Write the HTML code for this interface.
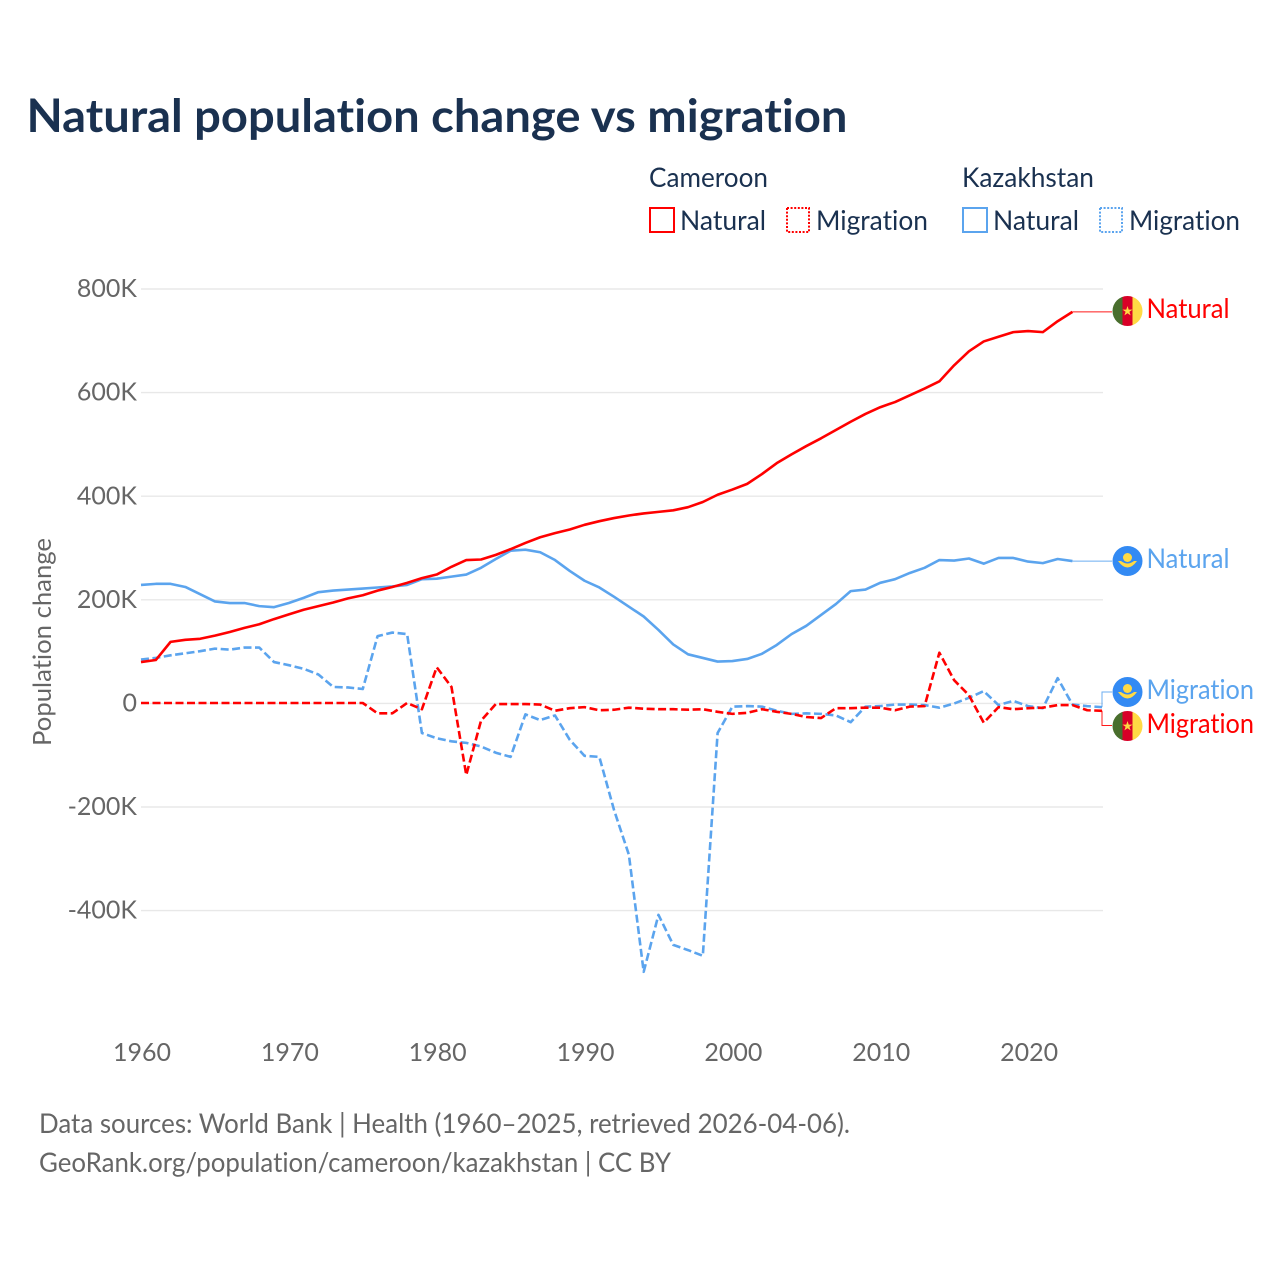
<!DOCTYPE html>
<html lang="en">
<head>
<meta charset="utf-8">
<title>Natural population change vs migration</title>
<style>
html,body{margin:0;padding:0;background:#fff;}
svg{display:block;}
text{font-family:"Lato","Carlito","Liberation Sans",sans-serif;font-variant-ligatures:none;}
</style>
</head>
<body>
<svg id="chart" xmlns="http://www.w3.org/2000/svg" width="1280" height="1280" viewBox="0 0 1280 1280">
  <rect x="0" y="0" width="1280" height="1280" fill="#ffffff"/>
  <defs>
    <clipPath id="flag-clip-1"><circle cx="1127.5" cy="311" r="15"/></clipPath>
    <clipPath id="flag-clip-2"><circle cx="1127.5" cy="726" r="15"/></clipPath>
  </defs>

  <text x="26.5" y="132" font-size="46" font-weight="700" fill="#1a3150" textLength="821" lengthAdjust="spacingAndGlyphs">Natural population change vs migration</text>

  <g font-size="27" fill="#1a3150">
    <text x="649" y="187" textLength="119" lengthAdjust="spacingAndGlyphs">Cameroon</text>
    <text x="962" y="187" textLength="132" lengthAdjust="spacingAndGlyphs">Kazakhstan</text>
    <rect x="650" y="208" width="24" height="24" fill="none" stroke="#ff0000" stroke-width="2"/>
    <text x="680" y="230" textLength="86" lengthAdjust="spacingAndGlyphs">Natural</text>
    <rect x="787" y="208" width="22" height="24" fill="none" stroke="#ff0000" stroke-width="2" stroke-dasharray="2 1.6"/>
    <text x="816" y="230" textLength="112" lengthAdjust="spacingAndGlyphs">Migration</text>
    <rect x="963" y="208" width="24" height="24" fill="none" stroke="#5ba4ee" stroke-width="2"/>
    <text x="993" y="230" textLength="86" lengthAdjust="spacingAndGlyphs">Natural</text>
    <rect x="1100" y="208" width="22" height="24" fill="none" stroke="#5ba4ee" stroke-width="2" stroke-dasharray="2 1.6"/>
    <text x="1129" y="230" textLength="111" lengthAdjust="spacingAndGlyphs">Migration</text>
  </g>

  <g id="grid"></g>
  <g id="y-axis"></g>
  <g id="x-axis"></g>

  <text transform="translate(51,746) rotate(-90)" font-size="25" fill="#666666" textLength="208" lengthAdjust="spacingAndGlyphs">Population change</text>

  <g id="leaders"></g>
  <g id="series"></g>

  <g>
    <g clip-path="url(#flag-clip-1)">
      <rect x="1112" y="296" width="10.5" height="30" fill="#496e2d"/>
      <rect x="1122.5" y="296" width="10" height="30" fill="#d80027"/>
      <rect x="1132.5" y="296" width="10" height="30" fill="#ffda44"/>
      <polygon points="1127.5,306 1128.7,309.6 1132.5,309.6 1129.4,311.8 1130.6,315.4 1127.5,313.2 1124.4,315.4 1125.6,311.8 1122.5,309.6 1126.3,309.6" fill="#ffda44"/>
    </g>
    <text x="1146.5" y="318" font-size="27" fill="#ff0000" textLength="83" lengthAdjust="spacingAndGlyphs">Natural</text>
  </g>

  <g>
    <g>
      <circle cx="1127.5" cy="561" r="15" fill="#338af3"/>
      <circle cx="1127.5" cy="557.5" r="4.5" fill="#ffda44"/>
      <path d="M1118 561 L1121 561 Q1127.5 566 1134 561 L1137 561 Q1127.5 574 1118 561 Z" fill="#ffda44"/>
    </g>
    <text x="1146.5" y="568" font-size="27" fill="#5ba4ee" textLength="83" lengthAdjust="spacingAndGlyphs">Natural</text>
  </g>

  <g>
    <g>
      <circle cx="1127.5" cy="692" r="15" fill="#338af3"/>
      <circle cx="1127.5" cy="688.5" r="4.5" fill="#ffda44"/>
      <path d="M1118 692 L1121 692 Q1127.5 697 1134 692 L1137 692 Q1127.5 705 1118 692 Z" fill="#ffda44"/>
    </g>
    <text x="1146.5" y="699" font-size="27" fill="#5ba4ee" textLength="107.5" lengthAdjust="spacingAndGlyphs">Migration</text>
  </g>

  <g>
    <g clip-path="url(#flag-clip-2)">
      <rect x="1112" y="711" width="10.5" height="30" fill="#496e2d"/>
      <rect x="1122.5" y="711" width="10" height="30" fill="#d80027"/>
      <rect x="1132.5" y="711" width="10" height="30" fill="#ffda44"/>
      <polygon points="1127.5,721 1128.7,724.6 1132.5,724.6 1129.4,726.8 1130.6,730.4 1127.5,728.2 1124.4,730.4 1125.6,726.8 1122.5,724.6 1126.3,724.6" fill="#ffda44"/>
    </g>
    <text x="1146.5" y="733" font-size="27" fill="#ff0000" textLength="107.5" lengthAdjust="spacingAndGlyphs">Migration</text>
  </g>

  <text x="39" y="1133" font-size="27" fill="#666666" textLength="811" lengthAdjust="spacingAndGlyphs">Data sources: World Bank | Health (1960–2025, retrieved 2026-04-06).</text>
  <text x="39" y="1172" font-size="27" fill="#666666" textLength="632" lengthAdjust="spacingAndGlyphs">GeoRank.org/population/cameroon/kazakhstan | CC BY</text>
</svg>

<script>
const years = [
  1960,1961,1962,1963,1964,1965,1966,1967,1968,1969,
  1970,1971,1972,1973,1974,1975,1976,1977,1978,1979,
  1980,1981,1982,1983,1984,1985,1986,1987,1988,1989,
  1990,1991,1992,1993,1994,1995,1996,1997,1998,1999,
  2000,2001,2002,2003,2004,2005,2006,2007,2008,2009,
  2010,2011,2012,2013,2014,2015,2016,2017,2018,2019,
  2020,2021,2022,2023,2024,2025
];
const cameroonNatural = [
  79,83,118,122,124,130,137,145,152,162,
  171,180,187,194,202,208,217,224,232,241,
  248,263,276,277,286,297,309,320,328,335,
  344,351,357,362,366,369,372,378,388,402,
  412,423,442,463,480,496,511,527,543,558,
  571,581,594,607,621,652,679,698,707,716,
  718,716,737,755
];
const cameroonMigration = [
  0,0,0,0,0,0,0,0,0,0,
  0,0,0,0,0,0,-20,-20,0,-12,
  69,31,-139,-34,-2,-2,-2,-3,-15,-10,
  -8,-14,-13,-9,-11,-12,-12,-13,-12,-17,
  -21,-19,-12,-17,-21,-27,-29,-10,-10,-9,
  -9,-14,-7,-6,97,44,15,-38,-8,-12,
  -10,-9,-4,-4,-14,-15
];
const kazakhstanNatural = [
  228,230,230,224,210,196,193,193,187,185,
  193,203,214,217,219,221,223,225,228,239,
  240,244,248,261,278,294,296,291,276,255,
  236,223,205,186,167,141,113,94,87,80,
  81,85,95,112,133,149,170,191,216,219,
  232,239,251,261,276,275,279,269,280,280,
  273,270,278,274
];
const kazakhstanMigration = [
  84,87,92,96,100,105,103,107,107,79,
  73,66,55,31,30,27,129,136,133,-58,
  -68,-74,-77,-84,-96,-104,-22,-33,-24,-71,
  -102,-104,-207,-293,-519,-409,-467,-477,-488,-58,
  -7,-6,-7,-15,-21,-20,-21,-24,-37,-7,
  -6,-3,-3,-4,-9,-1,10,23,-4,4,
  -6,-10,48,-3,-6,-8
];
const yTickValues = [800,600,400,200,0,-200,-400];
const xTickValues = [1960,1970,1980,1990,2000,2010,2020];

const SVG_NS = 'http://www.w3.org/2000/svg';
const RED = '#ff0000';
const BLUE = '#5ba4ee';

function xScale(year) {
  return 141 + (year - 1960) * (1102 - 141) / 65;
}
function yScale(value) {
  return 703 - value * 0.518;
}
function formatY(value) {
  return value === 0 ? '0' : value + 'K';
}
function linePath(values) {
  return values.map(function (v, i) {
    return (i === 0 ? 'M' : 'L') + xScale(years[i]).toFixed(2) + ' ' + yScale(v).toFixed(2);
  }).join(' ');
}

const gridGroup = document.getElementById('grid');
const yAxisGroup = document.getElementById('y-axis');
const xAxisGroup = document.getElementById('x-axis');
const leaderGroup = document.getElementById('leaders');
const seriesGroup = document.getElementById('series');

yTickValues.forEach(function (tick) {
  const grid = document.createElementNS(SVG_NS, 'line');
  
  
  grid.setAttribute('x1', 141);
  grid.setAttribute('x2', 1103);
  grid.setAttribute('y1', yScale(tick) + 0.4);
  grid.setAttribute('y2', yScale(tick) + 0.4);
  grid.setAttribute('stroke', '#e8e8e8');
  grid.setAttribute('stroke-width', '1.4');
  gridGroup.appendChild(grid);

  const label = document.createElementNS(SVG_NS, 'text');
  
  
  label.setAttribute('x', 137);
  label.setAttribute('y', yScale(tick) + 8.5);
  label.setAttribute('text-anchor', 'end');
  label.setAttribute('font-size', '25');
  label.setAttribute('fill', '#666666');
  label.textContent = formatY(tick);
  yAxisGroup.appendChild(label);
});

xTickValues.forEach(function (tick) {
  const label = document.createElementNS(SVG_NS, 'text');
  
  
  label.setAttribute('x', xScale(tick) + 1);
  label.setAttribute('y', 1061);
  label.setAttribute('text-anchor', 'middle');
  label.setAttribute('font-size', '25');
  label.setAttribute('fill', '#666666');
  label.textContent = tick;
  xAxisGroup.appendChild(label);
});

function addLeader(name, color, points) {
  const leader = document.createElementNS(SVG_NS, 'polyline');
  
  
  leader.setAttribute('points', points);
  leader.setAttribute('fill', 'none');
  leader.setAttribute('stroke', color);
  leader.setAttribute('stroke-width', '1');
  leader.setAttribute('opacity', '0.9');
  leaderGroup.appendChild(leader);
}

const lastCN = yScale(cameroonNatural[cameroonNatural.length - 1]);
const lastKN = yScale(kazakhstanNatural[kazakhstanNatural.length - 1]);
const lastCM = yScale(cameroonMigration[cameroonMigration.length - 1]);
const lastKM = yScale(kazakhstanMigration[kazakhstanMigration.length - 1]);
const endCN = xScale(years[cameroonNatural.length - 1]);
const endKN = xScale(years[kazakhstanNatural.length - 1]);

addLeader('leader-cameroon-natural', RED, endCN + ',' + lastCN + ' 1112,' + lastCN);
addLeader('leader-kazakhstan-natural', BLUE, endKN + ',' + lastKN + ' 1112,' + lastKN);
addLeader('leader-kazakhstan-migration', BLUE, '1102,' + lastKM + ' 1102,692 1112,692');
addLeader('leader-cameroon-migration', RED, '1102,' + lastCM + ' 1102,725.5 1112,725.5');

function addSeries(name, values, color, dashed) {
  const path = document.createElementNS(SVG_NS, 'path');
  
  
  path.setAttribute('d', linePath(values));
  path.setAttribute('fill', 'none');
  path.setAttribute('stroke', color);
  path.setAttribute('stroke-width', '2.6');
  path.setAttribute('stroke-linejoin', 'round');
  if (dashed) {
    path.setAttribute('stroke-dasharray', '8 3.5');
  }
  seriesGroup.appendChild(path);
}

addSeries('line-kazakhstan-migration', kazakhstanMigration, BLUE, true);
addSeries('line-kazakhstan-natural', kazakhstanNatural, BLUE, false);
addSeries('line-cameroon-migration', cameroonMigration, RED, true);
addSeries('line-cameroon-natural', cameroonNatural, RED, false);
</script>
</body>
</html>
